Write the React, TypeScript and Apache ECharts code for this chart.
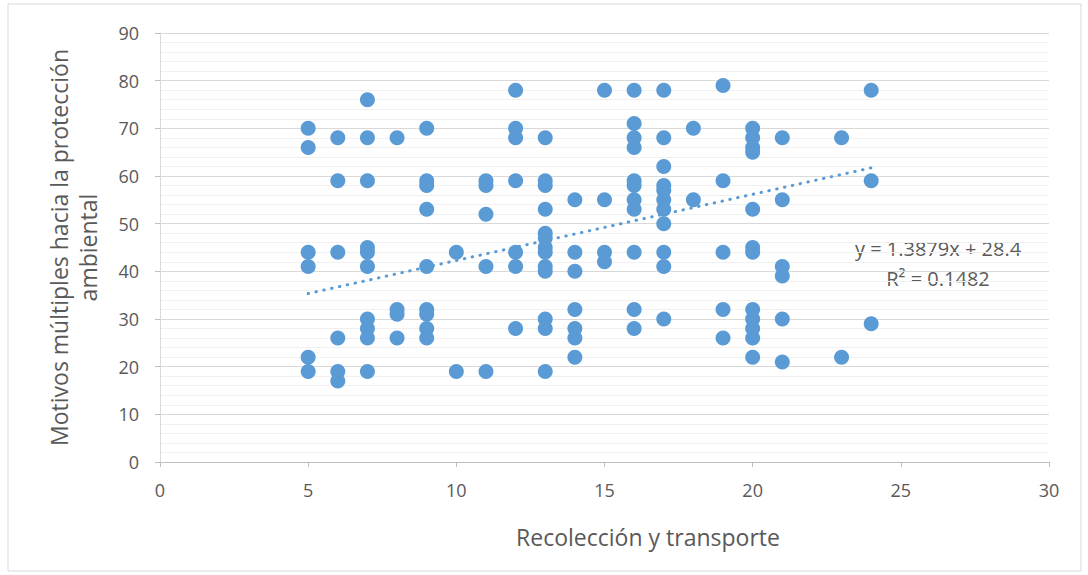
import React, { useEffect, useRef } from "react";
import * as echarts from "echarts";

// Scatter data: one x value and its list of y values per column
const xColumns = [5, 6, 7, 8, 9, 10, 11, 12, 13, 14, 15, 16, 17, 18, 19, 20, 21, 23, 24];
const yColumns: number[][] = [
  [70, 66, 44, 41, 22, 19],
  [68, 59, 44, 26, 19, 17],
  [76, 68, 59, 45, 44, 41, 30, 28, 26, 19],
  [68, 32, 31, 26],
  [70, 59, 58, 53, 41, 32, 31, 28, 26],
  [44, 19],
  [59, 58, 52, 41, 19],
  [78, 70, 68, 59, 44, 41, 28],
  [68, 59, 58, 53, 48, 47, 45, 44, 41, 40, 30, 28, 19],
  [55, 44, 40, 32, 28, 26, 22],
  [78, 55, 44, 42],
  [78, 71, 68, 66, 59, 58, 55, 53, 44, 32, 28],
  [78, 68, 62, 58, 57, 55, 53, 50, 44, 41, 30],
  [70, 55],
  [79, 59, 44, 32, 26],
  [70, 68, 66, 65, 53, 45, 44, 32, 30, 28, 26, 22],
  [68, 55, 41, 39, 30, 21],
  [68, 22],
  [78, 59, 29],
];

// Linear trendline as printed on the chart
const trendSlope = 1.3879;
const trendIntercept = 28.4;
const trendXRange = [5, 24];
const equationLabel = "y = 1.3879x + 28.4";
const r2Label = "R² = 0.1482";

const xAxisTitle = "Recolección y transporte";
const yAxisTitle = "Motivos múltiples hacia la protección\nambiental";

const FONT = "'Open Sans', 'Noto Sans', sans-serif";
const BLUE = "#5B9BD5";
const TEXT = "#595959";

export default function App() {
  const ref = useRef<HTMLDivElement>(null);

  useEffect(() => {
    document.body.style.margin = "0";
    if (!ref.current) return;
    const chart = echarts.init(ref.current, undefined, { renderer: "svg" });

    const points: number[][] = [];
    xColumns.forEach((x, i) => yColumns[i].forEach((y) => points.push([x, y])));
    const trend = trendXRange.map((x) => [x, trendSlope * x + trendIntercept]);

    chart.setOption({
      animation: false,
      backgroundColor: "#fff",
      grid: { left: 160, right: 39, top: 33, bottom: 113 },
      xAxis: {
        type: "value",
        min: 0,
        max: 30,
        interval: 5,
        axisLine: { show: true, lineStyle: { color: "#BFBFBF", width: 1 } },
        axisTick: { show: true, length: 5, lineStyle: { color: "#BFBFBF" } },
        axisLabel: { fontFamily: FONT, fontSize: 18, color: TEXT, margin: 19 },
        splitLine: { show: false },
      },
      yAxis: {
        type: "value",
        min: 0,
        max: 90,
        interval: 10,
        name: yAxisTitle,
        nameLocation: "middle",
        nameGap: 58,
        nameRotate: 90,
        nameTextStyle: { fontFamily: FONT, fontSize: 23, color: TEXT, lineHeight: 29, padding: [0, 0, 0, 0] },
        axisLine: { show: true, lineStyle: { color: "#D9D9D9", width: 1 } },
        axisTick: { show: true, inside: false, length: 5, lineStyle: { color: "#BFBFBF" } },
        axisLabel: { fontFamily: FONT, fontSize: 18, color: TEXT, margin: 21 },
        splitLine: { show: true, lineStyle: { color: "#D9D9D9", width: 1 } },
        minorTick: { show: false, splitNumber: 5 },
        minorSplitLine: { show: true, lineStyle: { color: "#F0F0F0", width: 1 } },
      },
      series: [
        {
          type: "scatter",
          data: points,
          symbol: "circle",
          symbolSize: 15,
          itemStyle: { color: BLUE, opacity: 1 },
          z: 3,
        },
        {
          type: "line",
          data: trend,
          showSymbol: false,
          symbol: "none",
          lineStyle: { color: BLUE, width: 3, type: [0.5, 7.5], cap: "round" },
          z: 4,
        },
      ],
      graphic: [
        {
          type: "rect",
          shape: { x: 8, y: 4, width: 1073, height: 567 },
          style: { fill: "none", stroke: "#D9D9D9", lineWidth: 1 },
          silent: true,
        },
        {
          type: "text",
          x: 648,
          y: 537,
          style: {
            text: xAxisTitle,
            fontFamily: FONT,
            fontSize: 23,
            fill: TEXT,
            align: "center",
            verticalAlign: "middle",
          },
        },
        {
          type: "text",
          x: 938,
          y: 248,
          style: {
            text: equationLabel,
            fontFamily: FONT,
            fontSize: 20,
            fill: TEXT,
            align: "center",
            verticalAlign: "middle",
          },
        },
        {
          type: "text",
          x: 938,
          y: 278,
          style: {
            text: r2Label,
            fontFamily: FONT,
            fontSize: 20,
            fill: TEXT,
            align: "center",
            verticalAlign: "middle",
          },
        },
      ],
    });

    return () => chart.dispose();
  }, []);

  return <div ref={ref} style={{ width: 1088, height: 575 }} />;
}
